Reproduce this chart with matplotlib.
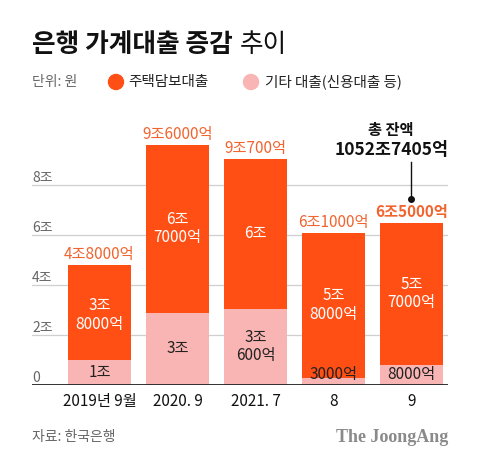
import matplotlib
matplotlib.use("Agg")
import matplotlib.pyplot as plt
import numpy as np

plt.rcParams['font.family'] = ['Noto Sans CJK KR', 'DejaVu Sans']

# 데이터 (단위: 조원)
periods = ["2019년 9월", "2020. 9", "2021. 7", "8", "9"]
mortgage = [3.8, 6.7, 6.0, 5.8, 5.7]
other = [1.0, 2.9, 3.06, 0.3, 0.8]
mortgage_labels = ["3조\n8000억", "6조\n7000억", "6조", "5조\n8000억", "5조\n7000억"]
other_labels = ["1조", "3조", "3조\n600억", "3000억", "8000억"]
total_labels = ["4조8000억", "9조6000억", "9조700억", "6조1000억", "6조5000억"]
yticks = [0, 2, 4, 6, 8]

ORANGE = "#FF4F14"
PINK = "#F9B5B3"
LABEL_ORANGE = "#F2642F"
GRAY = "#666666"

W, H = 480, 463
fig = plt.figure(figsize=(W / 100, H / 100), dpi=100)
ax = fig.add_axes([32 / W, (H - 385) / H, 416 / W, 275 / H])

x = np.arange(len(periods))
totals = np.array(mortgage) + np.array(other)

for v in yticks[1:]:
    ax.axhline(v, color="#cfcfcf", lw=0.9, zorder=0)
ax.bar(x, other, width=0.81, color=PINK, zorder=2)
ax.bar(x, mortgage, width=0.81, bottom=other, color=ORANGE, zorder=2)
ax.axhline(0, color="#222222", lw=1.3, zorder=3)

ax.set_xlim(-0.865, 4.468)
ax.set_ylim(0, 11)
ax.axis("off")

# y 눈금 글자
for v in yticks:
    ax.text(0.0, v + 0.3, f"{v}조" if v else "0", transform=ax.get_yaxis_transform(),
            ha="left", va="center", fontsize=10, color=GRAY)

# 막대 안 글자
for i in range(len(periods)):
    mid = other[i] + mortgage[i] / 2
    if i == 0:
        mid = other[i] + mortgage[i] / 2 - 0.1
    ax.text(x[i], mid, mortgage_labels[i], ha="center", va="center", color="white",
            fontsize=11, linespacing=1.1, zorder=4)
    if other[i] >= 1:
        ax.text(x[i], other[i] / 2, other_labels[i], ha="center", va="center",
                color="#222222", fontsize=11, linespacing=1.1, zorder=4)
    else:
        ax.text(x[i], 0.4, other_labels[i], ha="center", va="center",
                color="#222222", fontsize=11, zorder=4)
    last = i == len(periods) - 1
    ax.text(x[i], totals[i] + 0.42, total_labels[i], ha="center", va="center",
            color=LABEL_ORANGE, fontsize=11, zorder=4,
            fontweight="bold" if last else "normal")
    ax.text(x[i], -0.65, periods[i], ha="center", va="center", color="#111111", fontsize=11)

# 총 잔액 주석
ax.plot([x[-1], x[-1]], [totals[-1] + 0.94, totals[-1] + 2.42], color="#111111", lw=1)
ax.plot(x[-1], totals[-1] + 0.94, "o", color="#111111", ms=4)
ax.text(x[-1] - 0.26, totals[-1] + 2.9, "1052조7405억", ha="center", va="center",
        fontsize=12.5, fontweight="bold", color="#111111")
ax.text(x[-1] - 0.26, totals[-1] + 3.7, "총 잔액", ha="center", va="center",
        fontsize=11, fontweight="bold", color="#111111")

# 제목, 범례, 출처
t1 = fig.text(32 / W, 1 - 45 / H, "은행 가계대출 증감", fontsize=18.5, fontweight=900,
              va="center", ha="left", color="#111111")
fig.canvas.draw()
bb = t1.get_window_extent(fig.canvas.get_renderer())
fig.text((bb.x1 + 7) / W, 1 - 45 / H, "추이", fontsize=18.5, va="center", ha="left",
         color="#111111")
fig.text(32 / W, 1 - 82 / H, "단위: 원", fontsize=10, va="center", color=GRAY)
fig.patches.append(matplotlib.patches.Ellipse((116 / W, 1 - 82 / H), 15 / W, 15 / H,
                                              transform=fig.transFigure, color=ORANGE))
fig.text(128 / W, 1 - 82 / H, "주택담보대출", fontsize=10.5, va="center", color="#222222")
fig.patches.append(matplotlib.patches.Ellipse((251 / W, 1 - 82 / H), 15 / W, 15 / H,
                                              transform=fig.transFigure, color=PINK))
fig.text(265 / W, 1 - 82 / H, "기타 대출(신용대출 등)", fontsize=10.5, va="center", color="#222222")
fig.text(32 / W, 1 - 437 / H, "자료: 한국은행", fontsize=10, va="center", color=GRAY)
fig.text(448 / W, 1 - 437 / H, "The JoongAng", fontsize=13, va="center", ha="right",
         family="Liberation Serif", fontweight="bold", color="#8a8a8a")

fig.savefig("out.png", dpi=100)
